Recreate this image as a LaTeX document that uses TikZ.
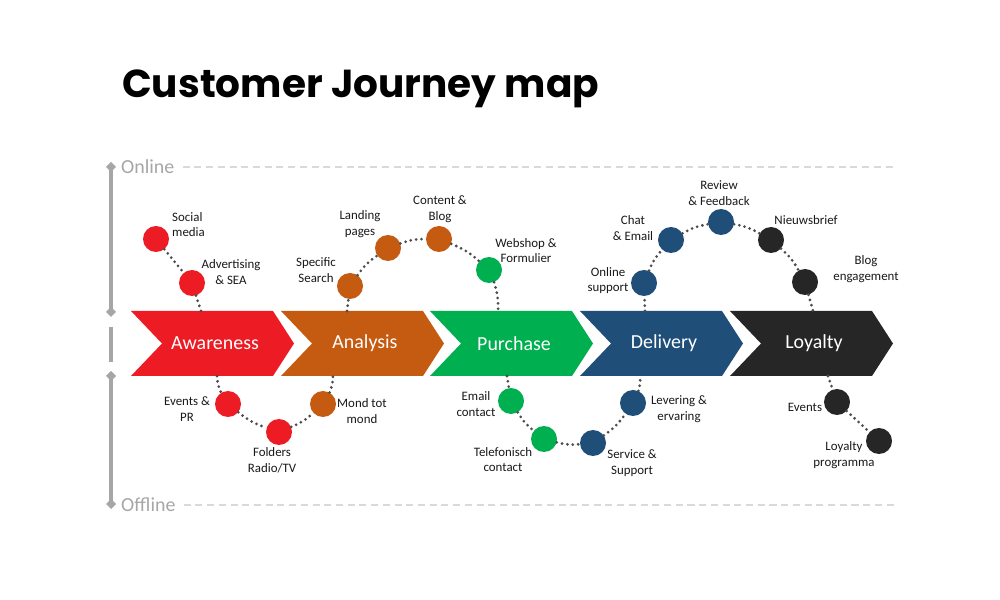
\documentclass[tikz,border=0pt]{standalone}
\usepackage{fontspec}
\setmainfont{Carlito}
\newfontfamily\titlefont{Poppins}
\usetikzlibrary{positioning}

\definecolor{awred}{HTML}{ED1C24}
\definecolor{anorange}{HTML}{C55A11}
\definecolor{pugreen}{HTML}{00B050}
\definecolor{deblue}{HTML}{1F4E79}
\definecolor{loblack}{HTML}{262626}
\definecolor{linkgray}{HTML}{4D4D4D}
\definecolor{axisgray}{HTML}{A6A6A6}
\definecolor{dashgray}{HTML}{D9D9D9}

\begin{document}
\begin{tikzpicture}[
    x=0.03cm, y=-0.03cm,
    stop/.style={circle,fill=#1,minimum size=0.78cm,inner sep=0pt},
    txt/.style={font=\fontsize{11}{13.4}\selectfont,align=center,inner sep=0pt,text=black!90},
    link/.style={draw=linkgray,line width=2.6pt,line cap=round,dash pattern=on 0pt off 4.6pt},
    stage/.style={font=\fontsize{17}{20}\selectfont,text=white,inner sep=0pt},
    side/.style={font=\fontsize{17}{20}\selectfont,text=axisgray,inner sep=0pt,anchor=west}
    ]

    \useasboundingbox (0,0) rectangle (1000,600);

    % title
    \node[anchor=base west,inner sep=0pt,font=\titlefont\bfseries\fontsize{33.3}{40}\selectfont] (title) at (122,98) {Customer Journey map};

    % online / offline axis
    \draw[axisgray,line width=2.6pt] (111,167) -- (111,312) (111,327) -- (111,362) (111,376) -- (111,504);
    \foreach \y in {167,312,376,504}
      \fill[axisgray] (111,\y-5) -- (116,\y) -- (111,\y+5) -- (106,\y) -- cycle;
    \node[side] (online) at (121,167) {Online};
    \node[side] (offline) at (121,505) {Offline};
    \draw[dashgray,line width=1.3pt,dash pattern=on 6pt off 4pt] (online.east) ++(8,0) -- (895,167);
    \draw[dashgray,line width=1.3pt,dash pattern=on 6pt off 4pt] (offline.east) ++(8,0) -- (895,505);

    % stages
    \foreach \x/\c/\t/\n in {131/awred/Awareness/aw, 281/anorange/Analysis/an, 430/pugreen/Purchase/pu, 580/deblue/Delivery/de, 730/loblack/Loyalty/lo}{
      \fill[\c] (\x,311) -- (\x+142,311) -- (\x+163,343.5) -- (\x+142,376) -- (\x,376) -- (\x+31,343.5) -- cycle;
      \node[stage] (\n) at (\x+84,343.5) {\t};
    }

    \coordinate (awT) at (201,311);
    \coordinate (awB) at (217,376);
    \coordinate (anT) at (347,311);
    \coordinate (anB) at (333,376);
    \coordinate (puT) at (498,311);
    \coordinate (puB) at (507,376);
    \coordinate (deT) at (645,311);
    \coordinate (deB) at (640,376);
    \coordinate (loT) at (813,311);
    \coordinate (loB) at (828,376);

    % online touchpoints
    \node[stop=awred] (sm) at (156,239) {};
    \node[stop=awred] (ad) at (192,283) {};
    \node[stop=anorange] (ss) at (350,286) {};
    \node[stop=anorange] (lp) at (388,248) {};
    \node[stop=anorange] (cb) at (439,239) {};
    \node[stop=pugreen] (ws) at (489,270) {};
    \node[stop=deblue] (os) at (644,283) {};
    \node[stop=deblue] (ce) at (671,240) {};
    \node[stop=deblue] (rf) at (721,222) {};
    \node[stop=loblack] (nb) at (771,240) {};
    \node[stop=loblack] (be) at (805,282) {};

    \node[txt,align=left,anchor=west] (smt) at (172,224.5) {Social\\media};
    \node[txt] (adt) at (231,272) {Advertising\\\& SEA};
    \node[txt] (sst) at (316,270) {Specific\\Search};
    \node[txt] (lpt) at (360,224) {Landing\\pages};
    \node[txt] (cbt) at (440,209) {Content \&\\Blog};
    \node[txt] (wst) at (526,250.5) {Webshop \&\\Formulier};
    \node[txt] (ost) at (608,280.5) {Online\\support};
    \node[txt] (cet) at (633,228) {Chat\\\& Email};
    \node[txt] (rft) at (719,193) {Review\\\& Feedback};
    \node[txt] (nbt) at (806,220) {Nieuwsbrief};
    \node[txt] (bet) at (866,269) {Blog\\engagement};

    % offline touchpoints
    \node[stop=awred] (ev) at (228,404) {};
    \node[stop=awred] (fo) at (279,432) {};
    \node[stop=anorange] (mo) at (323,404) {};
    \node[stop=pugreen] (ec) at (511,401) {};
    \node[stop=pugreen] (tc) at (544,439) {};
    \node[stop=deblue] (sv) at (593,443) {};
    \node[stop=deblue] (le) at (633,403) {};
    \node[stop=loblack] (lev) at (837,402) {};
    \node[stop=loblack] (lpg) at (879,441) {};

    \node[txt] (evt) at (187,409) {Events \&\\PR};
    \node[txt] (fot) at (272,460) {Folders\\Radio/TV};
    \node[txt] (mot) at (362,411) {Mond tot\\mond};
    \node[txt] (ect) at (476,404) {Email\\contact};
    \node[txt] (tct) at (503,459.5) {Telefonisch\\contact};
    \node[txt] (svt) at (632,463) {Service \&\\Support};
    \node[txt] (let) at (679,409) {Levering \&\\ervaring};
    \node[txt] (levt) at (805,407) {Events};
    \node[txt] (lpgt) at (844,455) {Loyalty\\programma};

    % dotted paths
    \path[link] (sm) -- (ad) (ad) -- (awT)
      (anT) -- (ss) (ss) to[bend left=10] (lp) (lp) to[bend left=10] (cb) (cb) to[bend left=10] (ws) (ws) to[bend left=10] (puT)
      (deT) -- (os) (os) to[bend left=10] (ce) (ce) to[bend left=10] (rf) (rf) to[bend left=10] (nb) (nb) to[bend left=10] (be) (be) -- (loT);
    \path[link] (awB) to[bend right=10] (ev) (ev) to[bend right=10] (fo) (fo) to[bend right=10] (mo) (mo) to[bend right=10] (anB)
      (puB) -- (ec) (ec) to[bend right=10] (tc) (tc) to[bend right=10] (sv) (sv) to[bend right=10] (le) (le) to[bend right=10] (deB)
      (loB) -- (lev) (lev) -- (lpg);

  \end{tikzpicture}
\end{document}
